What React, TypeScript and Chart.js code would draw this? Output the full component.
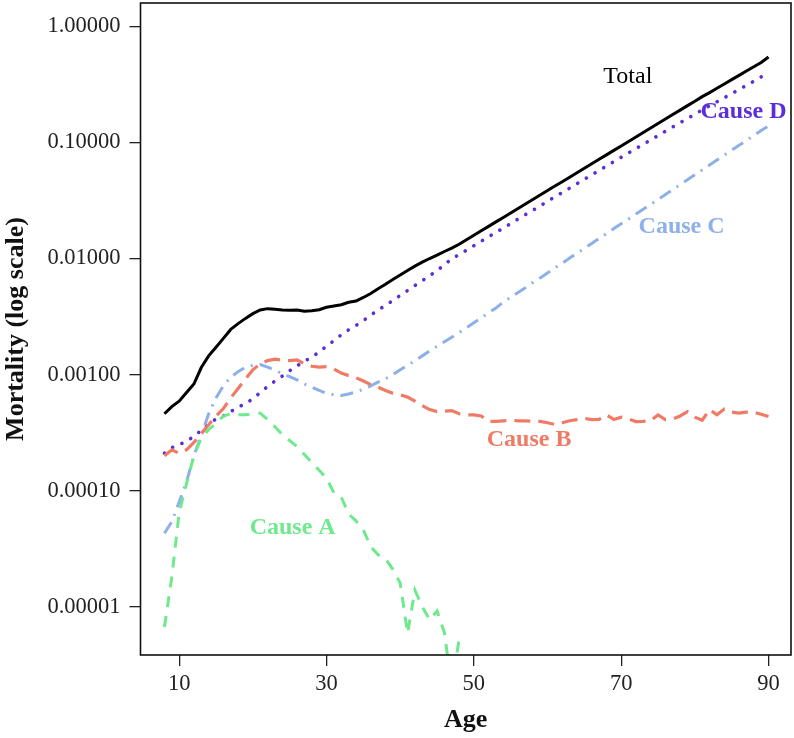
import React, { useEffect, useRef } from 'react';
import { Chart, registerables } from 'chart.js';

Chart.register(...registerables);

// ---------- data ----------
const ages = [
  8, 9, 10, 11, 12, 13, 14, 15, 16, 17, 18, 19, 20, 21, 22, 23, 24, 25, 26, 27,
  28, 29, 30, 31, 32, 33, 34, 35, 36, 37, 38, 39, 40, 41, 42, 43, 44, 45, 46, 47,
  48, 49, 50, 51, 52, 53, 54, 55, 56, 57, 58, 59, 60, 61, 62, 63, 64, 65, 66, 67,
  68, 69, 70, 71, 72, 73, 74, 75, 76, 77, 78, 79, 80, 81, 82, 83, 84, 85, 86, 87,
  88, 89, 90,
];

const total = [
  4.6e-4, 5.3e-4, 5.9e-4, 7.0e-4, 8.3e-4, 1.15e-3, 1.45e-3, 1.72e-3, 2.05e-3, 2.45e-3,
  2.75e-3, 3.05e-3, 3.35e-3, 3.6e-3, 3.7e-3, 3.65e-3, 3.6e-3, 3.58e-3, 3.6e-3, 3.52e-3,
  3.55e-3, 3.62e-3, 3.8e-3, 3.9e-3, 4.0e-3, 4.2e-3, 4.3e-3, 4.62e-3, 5.0e-3, 5.5e-3,
  6.0e-3, 6.6e-3, 7.2e-3, 7.9e-3, 8.6e-3, 9.3e-3, 0.0100, 0.0107, 0.0115, 0.0123,
  0.01328, 0.01452, 0.01585, 0.01733, 0.01892, 0.0207, 0.0226, 0.0247, 0.0270, 0.0295,
  0.0322, 0.0352, 0.0385, 0.0421, 0.0459, 0.0502, 0.0548, 0.0600, 0.0655, 0.0716,
  0.0782, 0.0855, 0.0933, 0.102, 0.1114, 0.122, 0.133, 0.1455, 0.159, 0.174,
  0.190, 0.2075, 0.2265, 0.248, 0.269, 0.293, 0.319, 0.3475, 0.378, 0.412,
  0.449, 0.489, 0.545,
];

const causeD = [
  2.1e-4, 2.35e-4, 2.5e-4, 2.65e-4, 2.95e-4, 3.3e-4, 3.75e-4, 4.15e-4, 4.4e-4, 4.8e-4,
  5.25e-4, 5.6e-4, 6.2e-4, 7.0e-4, 7.9e-4, 8.8e-4, 9.7e-4, 1.08e-3, 1.19e-3, 1.3e-3,
  1.42e-3, 1.56e-3, 1.76e-3, 1.96e-3, 2.2e-3, 2.43e-3, 2.65e-3, 2.92e-3, 3.25e-3, 3.6e-3,
  3.95e-3, 4.35e-3, 4.8e-3, 5.3e-3, 5.85e-3, 6.45e-3, 7.1e-3, 7.9e-3, 8.8e-3, 0.0100,
  0.0108, 0.0118, 0.0129, 0.0141, 0.0154, 0.0168, 0.0183, 0.0200, 0.0219, 0.0239,
  0.0260, 0.0284, 0.0311, 0.0340, 0.0370, 0.0404, 0.0441, 0.0482, 0.0526, 0.0574,
  0.0626, 0.0683, 0.0745, 0.0812, 0.0885, 0.0966, 0.105, 0.1146, 0.125, 0.136,
  0.148, 0.161, 0.175, 0.191, 0.207, 0.224, 0.243, 0.263, 0.286, 0.310,
  0.337, 0.367, 0.41,
];

const causeC = [
  4.3e-5, 5.4e-5, 8.0e-5, 1.2e-4, 2.0e-4, 3.0e-4, 4.6e-4, 6.3e-4, 8.0e-4, 9.5e-4,
  1.06e-3, 1.16e-3, 1.2e-3, 1.22e-3, 1.16e-3, 1.09e-3, 1.02e-3, 9.6e-4, 9.0e-4, 8.3e-4,
  7.8e-4, 7.3e-4, 6.9e-4, 6.7e-4, 6.6e-4, 6.8e-4, 7.1e-4, 7.5e-4, 8.0e-4, 8.6e-4,
  9.2e-4, 1.0e-3, 1.1e-3, 1.2e-3, 1.32e-3, 1.45e-3, 1.6e-3, 1.75e-3, 1.92e-3, 2.1e-3,
  2.3e-3, 2.53e-3, 2.8e-3, 3.08e-3, 3.4e-3, 3.75e-3, 4.2e-3, 4.65e-3, 5.1e-3, 5.6e-3,
  6.2e-3, 6.8e-3, 7.5e-3, 8.3e-3, 9.1e-3, 0.0101, 0.0111, 0.0122, 0.0135, 0.0149,
  0.0164, 0.0181, 0.0199, 0.0219, 0.0242, 0.0266, 0.0293, 0.0323, 0.0356, 0.0393,
  0.0433, 0.0477, 0.0526, 0.058, 0.064, 0.0705, 0.0777, 0.0857, 0.0944, 0.104,
  0.1147, 0.1265, 0.139,
];

const causeB = [
  2.0e-4, 2.25e-4, 2.1e-4, 2.25e-4, 2.6e-4, 3.1e-4, 3.7e-4, 4.4e-4, 5.1e-4, 6.3e-4,
  7.6e-4, 9.2e-4, 1.1e-3, 1.24e-3, 1.32e-3, 1.36e-3, 1.33e-3, 1.32e-3, 1.34e-3, 1.24e-3,
  1.18e-3, 1.16e-3, 1.17e-3, 1.12e-3, 1.03e-3, 9.8e-4, 9.4e-4, 8.8e-4, 8.2e-4, 7.8e-4,
  7.3e-4, 6.9e-4, 6.7e-4, 6.4e-4, 5.9e-4, 5.4e-4, 5.0e-4, 4.8e-4, 4.85e-4, 4.9e-4,
  4.6e-4, 4.5e-4, 4.5e-4, 4.4e-4, 3.95e-4, 3.95e-4, 4.0e-4, 4.05e-4, 4.0e-4, 4.0e-4,
  3.95e-4, 3.95e-4, 3.85e-4, 3.72e-4, 3.85e-4, 4.0e-4, 4.1e-4, 4.2e-4, 4.1e-4, 4.12e-4,
  4.5e-4, 4.1e-4, 4.3e-4, 4.15e-4, 3.94e-4, 3.96e-4, 4.0e-4, 4.5e-4, 4.1e-4, 4.15e-4,
  4.4e-4, 4.8e-4, 4.3e-4, 4.05e-4, 5.0e-4, 4.5e-4, 5.05e-4, 4.75e-4, 4.65e-4, 4.75e-4,
  4.75e-4, 4.55e-4, 4.35e-4,
];

// Cause A is only observed up to age 48
const causeA = [
  6.7e-6, 1.8e-5, 6.5e-5, 1.15e-4, 2.0e-4, 2.85e-4, 3.35e-4, 3.8e-4, 4.4e-4, 4.6e-4,
  4.5e-4, 4.5e-4, 4.6e-4, 4.65e-4, 4.1e-4, 3.55e-4, 3.05e-4, 2.7e-4, 2.4e-4, 2.05e-4,
  1.75e-4, 1.5e-4, 1.28e-4, 9.6e-5, 8.8e-5, 6.3e-5, 5.5e-5, 4.6e-5, 3.3e-5, 2.8e-5,
  2.6e-5, 2.1e-5, 1.6e-5, 5.9e-6, 1.39e-5, 1.0e-5, 7.7e-6, 9.2e-6, 6.0e-6, 2.0e-6,
  5.3e-6,
];

const xTickValues = [10, 30, 50, 70, 90];
const yTickValues = [0.00001, 0.0001, 0.001, 0.01, 0.1, 1];
const seriesNames = ['Total', 'Cause D', 'Cause C', 'Cause B', 'Cause A'];

// ---------- styling / annotation placement ----------
const colors = {
  total: '#000000',
  d: '#5a2ed8',
  c: '#8db0ea',
  b: '#ef7b66',
  a: '#6fe98d',
};

const annotations = [
  { text: seriesNames[0], age: 70.9, value: 0.368, color: colors.total, bold: false },
  { text: seriesNames[1], age: 86.6, value: 0.1836, color: colors.d, bold: true },
  { text: seriesNames[2], age: 78.2, value: 0.0187, color: colors.c, bold: true },
  { text: seriesNames[3], age: 57.5, value: 2.74e-4, color: colors.b, bold: true },
  { text: seriesNames[4], age: 25.4, value: 4.78e-5, color: colors.a, bold: true },
];

const FONT = '"Liberation Serif", "Times New Roman", serif';

function toPoints(values: (number | null)[]) {
  const pts: { x: number; y: number }[] = [];
  values.forEach((v, i) => {
    if (v != null && i < ages.length) pts.push({ x: ages[i], y: v });
  });
  return pts;
}

const framePlugin = {
  id: 'frameAndLabels',
  afterDatasetsDraw(chart: any) {
    const { ctx, chartArea: a, scales } = chart;
    const x = scales.x;
    const y = scales.y;
    ctx.save();
    annotations.forEach((an) => {
      ctx.font = `${an.bold ? 'bold ' : ''}24px ${FONT}`;
      ctx.fillStyle = an.color;
      ctx.textAlign = 'center';
      ctx.textBaseline = 'middle';
      ctx.fillText(an.text, x.getPixelForValue(an.age), y.getPixelForValue(an.value));
    });
    ctx.strokeStyle = '#111';
    ctx.lineWidth = 1.6;
    ctx.strokeRect(a.left, a.top, a.right - a.left, a.bottom - a.top);
    ctx.restore();
  },
};

export default function App() {
  const ref = useRef<HTMLCanvasElement>(null);

  useEffect(() => {
    if (!ref.current) return;
    Chart.defaults.font.family = FONT;
    const common = {
      fill: false,
      pointRadius: 0,
      pointHoverRadius: 0,
      tension: 0,
      clip: 0,
    };
    const chart = new Chart(ref.current, {
      type: 'line',
      data: {
        datasets: [
          {
            ...common,
            label: seriesNames[4],
            data: toPoints(causeA),
            borderColor: colors.a,
            borderWidth: 3,
            borderDash: [11, 9],
          },
          {
            ...common,
            label: seriesNames[3],
            data: toPoints(causeB),
            borderColor: colors.b,
            borderWidth: 3.2,
            borderDash: [16, 8],
          },
          {
            ...common,
            label: seriesNames[2],
            data: toPoints(causeC),
            borderColor: colors.c,
            borderWidth: 3,
            borderDash: [13, 7, 2, 7],
          },
          {
            ...common,
            label: seriesNames[1],
            data: toPoints(causeD),
            borderColor: colors.d,
            borderWidth: 3.6,
            borderCapStyle: 'round',
            borderDash: [0.1, 10],
          },
          {
            ...common,
            label: seriesNames[0],
            data: toPoints(total),
            borderColor: colors.total,
            borderWidth: 3,
          },
        ] as any,
      },
      options: {
        animation: false,
        responsive: false,
        maintainAspectRatio: false,
        events: [],
        layout: { padding: { top: 3, right: 3, left: 0, bottom: 0 } },
        plugins: {
          legend: { display: false },
          tooltip: { enabled: false },
        },
        scales: {
          x: {
            type: 'linear',
            min: 4.75,
            max: 93.05,
            afterBuildTicks: (scale: any) => {
              scale.ticks = xTickValues.map((v) => ({ value: v }));
            },
            afterFit: (scale: any) => {
              scale.height = 83;
              scale.paddingLeft = 0;
              scale.paddingRight = 0;
              scale.paddingTop = 0;
              scale.paddingBottom = 0;
            },
            ticks: {
              autoSkip: false,
              maxRotation: 0,
              padding: 5,
              color: '#222',
              font: { size: 22.5, family: FONT },
              callback: (v: any) => String(v),
            },
            grid: {
              display: true,
              drawOnChartArea: false,
              drawTicks: true,
              tickLength: 11,
              color: '#222',
              lineWidth: 1.3,
            },
            border: { display: false },
            title: {
              display: true,
              text: 'Age',
              color: '#111',
              font: { size: 26, weight: 'bold', family: FONT },
              padding: { top: 0, bottom: 2 },
            },
          },
          y: {
            type: 'logarithmic',
            min: 3.84e-6,
            max: 1.59,
            afterBuildTicks: (scale: any) => {
              scale.ticks = yTickValues.map((v) => ({ value: v }));
            },
            afterFit: (scale: any) => {
              scale.width = 140.5;
              scale.paddingTop = 0;
              scale.paddingBottom = 0;
              scale.paddingLeft = 0;
              scale.paddingRight = 0;
            },
            ticks: {
              autoSkip: false,
              padding: 9,
              color: '#222',
              font: { size: 22.5, family: FONT },
              callback: (v: any) => Number(v).toFixed(5),
            },
            grid: {
              display: true,
              drawOnChartArea: false,
              drawTicks: true,
              tickLength: 11,
              color: '#222',
              lineWidth: 1.3,
            },
            border: { display: false },
            title: {
              display: true,
              text: 'Mortality (log scale)',
              color: '#111',
              font: { size: 26, weight: 'bold', family: FONT },
              padding: { top: 1, bottom: 0 },
            },
          },
        },
      } as any,
      plugins: [framePlugin],
    });
    return () => chart.destroy();
  }, []);

  return (
    <div style={{ position: 'fixed', left: 0, top: 0, width: 794, height: 738, background: '#fff' }}>
      <canvas ref={ref} width={794} height={738} style={{ display: 'block' }} />
    </div>
  );
}
